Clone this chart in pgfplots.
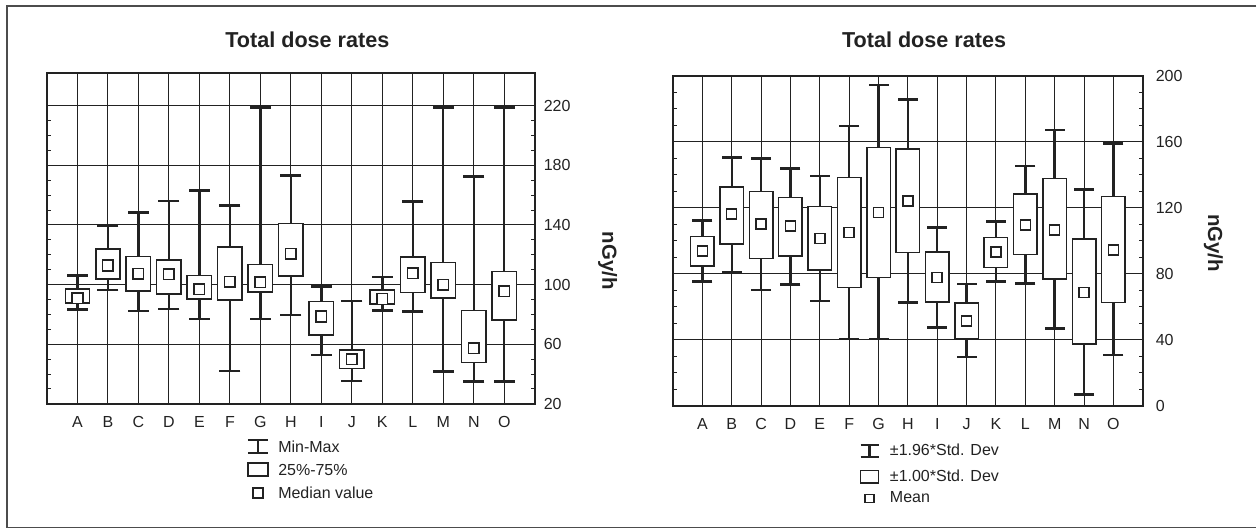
\documentclass[border=0pt]{standalone}
\usepackage{fontspec}
\setmainfont{Liberation Sans}
\usepackage{pgfplots}
\usepackage{pgfplotstable}
\pgfplotsset{compat=1.18}

\definecolor{ink}{HTML}{222222}

% left: min, 25%, median, 75%, max
\pgfplotstableread{
x lo q1 c q3 hi
0 83.1 87.6 90.9 97.0 106.1
1 96.5 103.9 112.8 124.0 139.4
2 82.4 95.8 107.2 118.8 148.2
3 83.7 93.6 107.0 116.6 156.0
4 77.0 90.3 97.0 106.1 163.1
5 42.1 89.8 102.0 125.1 153.0
6 76.8 95.0 101.7 113.5 219.0
7 79.7 105.9 120.6 141.0 173.0
8 52.7 66.3 78.6 88.6 98.7
9 35.4 43.7 50.0 56.2 88.9
10 82.6 86.9 90.3 96.5 105.0
11 82.0 94.7 107.7 118.4 155.8
12 41.7 90.9 99.9 114.8 219.0
13 35.0 47.7 57.4 82.6 172.5
14 35.0 76.4 95.4 108.8 219.0
}\Ldata

% right: -1.96 SD, -1 SD, mean, +1 SD, +1.96 SD
\pgfplotstableread{
x lo q1 c q3 hi
0 75.4 84.8 93.9 102.6 112.5
1 81.2 98.0 116.2 132.7 150.5
2 70.3 89.3 110.1 129.9 149.9
3 73.6 90.9 109.1 126.3 143.9
4 63.6 82.4 101.6 120.8 139.4
5 40.4 71.8 105.1 138.4 169.7
6 40.4 77.8 117.2 156.6 194.5
7 62.7 93.0 124.2 155.6 185.9
8 47.5 63.0 77.8 93.3 108.1
9 29.7 40.4 51.5 62.2 73.8
10 75.2 83.9 93.3 102.0 111.7
11 74.2 91.9 109.7 128.3 145.5
12 46.9 76.8 106.7 137.8 167.3
13 6.7 37.4 68.7 101.0 131.3
14 30.7 62.7 94.4 126.9 159.0
}\Rdata

\pgfplotsset{
 frame/.style={scale only axis, xmin=-1, xmax=15},
 dose/.style={
  frame,
  xtick={0,...,14}, xticklabels={A,B,C,D,E,F,G,H,I,J,K,L,M,N,O},
  xmajorgrids, ymajorgrids,
  grid style={line width=0.5pt, ink},
  axis line style={line width=0.8pt, ink},
  yticklabel pos=right,
  minor y tick num=3,
  major tick length=0pt, minor tick length=2pt,
  tick style={ink, line width=0.5pt},
  tick label style={font=\fontsize{8}{9.6}\selectfont, text=ink},
  /pgf/number format/assume math mode=true,
  xticklabel style={yshift=-2.8pt},
  yticklabel style={xshift=1pt},
 },
 whisk/.style={draw=none, mark=none,
  error bars/.cd, y dir=both, y explicit, error mark=none,
  error bar style={draw=ink, line width=1.2pt}},
 cap/.style={only marks, mark=-, mark size=#1, mark options={draw=ink, line width=1.3pt}},
 boxes/.style={frame, hide axis, ybar stacked, bar width=0.8},
}

\begin{document}
\begin{tikzpicture}
\begin{scope}[x=0.5pt, y=-0.5pt]
  \path (0,0) rectangle (1257,531);
  \draw[line width=0.6pt, black!70] (1257,6) -- (7,6) -- (7,528) -- (1257,528);
\end{scope}

% ---------------- left chart ----------------
\begin{axis}[dose, at={(23.5pt,-202pt)}, anchor=south west, width=244pt, height=165.5pt,
  ymin=20, ymax=242, ytick={20,60,...,220}]
  \addplot[whisk] table[x=x, y expr=(\thisrow{lo}+\thisrow{hi})/2,
     y error expr=(\thisrow{hi}-\thisrow{lo})/2] {\Ldata};
  \addplot[cap=5.25pt] table[x=x, y=lo] {\Ldata};
  \addplot[cap=5.25pt] table[x=x, y=hi] {\Ldata};
\end{axis}
\begin{axis}[boxes, at={(23.5pt,-202pt)}, anchor=south west, width=244pt, height=165.5pt,
  ymin=20, ymax=242]
  \addplot[draw=none, fill=none] table[x=x, y=q1] {\Ldata};
  \addplot[fill=white, draw=ink, line width=0.75pt] table[x=x, y expr=\thisrow{q3}-\thisrow{q1}] {\Ldata};
\end{axis}
\begin{axis}[frame, hide axis, at={(23.5pt,-202pt)}, anchor=south west, width=244pt, height=165.5pt,
  ymin=20, ymax=242]
  \addplot[only marks, mark=square*, mark size=2.65pt,
     mark options={fill=white, draw=ink, line width=0.75pt}] table[x=x, y=c] {\Ldata};
\end{axis}

% ---------------- right chart ----------------
\begin{axis}[dose, at={(336.65pt,-203pt)}, anchor=south west, width=235pt, height=165pt,
  ymin=0, ymax=200, ytick={0,40,...,200}, yticklabel style={xshift=2pt}]
  \addplot[whisk] table[x=x, y expr=(\thisrow{lo}+\thisrow{hi})/2,
     y error expr=(\thisrow{hi}-\thisrow{lo})/2] {\Rdata};
  \addplot[cap=5pt] table[x=x, y=lo] {\Rdata};
  \addplot[cap=5pt] table[x=x, y=hi] {\Rdata};
\end{axis}
\begin{axis}[boxes, at={(336.65pt,-203pt)}, anchor=south west, width=235pt, height=165pt,
  ymin=0, ymax=200]
  \addplot[draw=none, fill=none] table[x=x, y=q1] {\Rdata};
  \addplot[fill=white, draw=ink, line width=0.75pt] table[x=x, y expr=\thisrow{q3}-\thisrow{q1}] {\Rdata};
\end{axis}
\begin{axis}[frame, hide axis, at={(336.65pt,-203pt)}, anchor=south west, width=235pt, height=165pt,
  ymin=0, ymax=200]
  \addplot[only marks, mark=square*, mark size=2.5pt,
     mark options={fill=white, draw=ink, line width=0.75pt}] table[x=x, y=c] {\Rdata};
\end{axis}

\begin{scope}[x=0.5pt, y=-0.5pt, every node/.style={text=ink, inner sep=0pt}]
  % titles
  \node[anchor=base, font=\fontsize{10.8}{13}\selectfont\bfseries] at (307.5,48) {Total dose rates};
  \node[anchor=base, font=\fontsize{10.8}{13}\selectfont\bfseries] at (924.5,48) {Total dose rates};
  % axis titles
  \node[rotate=-90, font=\fontsize{10.2}{12}\selectfont\bfseries] at (608,261) {nGy/h};
  \node[rotate=-90, font=\fontsize{10.2}{12}\selectfont\bfseries] at (1214,243) {nGy/h};
  % left legend
  \draw[ink, line width=1.1pt] (258,440) -- (258,453);
  \draw[ink, line width=1.1pt] (248,440) -- (268,440);
  \draw[ink, line width=1.1pt] (248,453) -- (268,453);
  \draw[ink, line width=0.75pt] (248,463) rectangle (268,476);
  \draw[ink, line width=0.75pt] (253,488) rectangle (263,498);
  \node[anchor=base west, font=\fontsize{8}{9.6}\selectfont] at (278,452.5) {Min-Max};
  \node[anchor=base west, font=\fontsize{8}{9.6}\selectfont] at (278,476) {25\%-75\%};
  \node[anchor=base west, font=\fontsize{8}{9.6}\selectfont] at (278,498.5) {Median value};
  % right legend
  \draw[ink, line width=1.1pt] (870,445) -- (870,457);
  \draw[ink, line width=1.1pt] (861,445) -- (879,445);
  \draw[ink, line width=1.1pt] (861,457) -- (879,457);
  \draw[ink, line width=0.75pt] (861,470.5) rectangle (879,483);
  \draw[ink, line width=0.75pt] (865.5,494.5) rectangle (874.5,502.5);
  \node[anchor=base west, font=\fontsize{8}{9.6}\selectfont] at (890,456) {±1.96*Std. Dev};
  \node[anchor=base west, font=\fontsize{8}{9.6}\selectfont] at (890,481.5) {±1.00*Std. Dev};
  \node[anchor=base west, font=\fontsize{8}{9.6}\selectfont] at (890,502.5) {Mean};
\end{scope}
\end{tikzpicture}
\end{document}
